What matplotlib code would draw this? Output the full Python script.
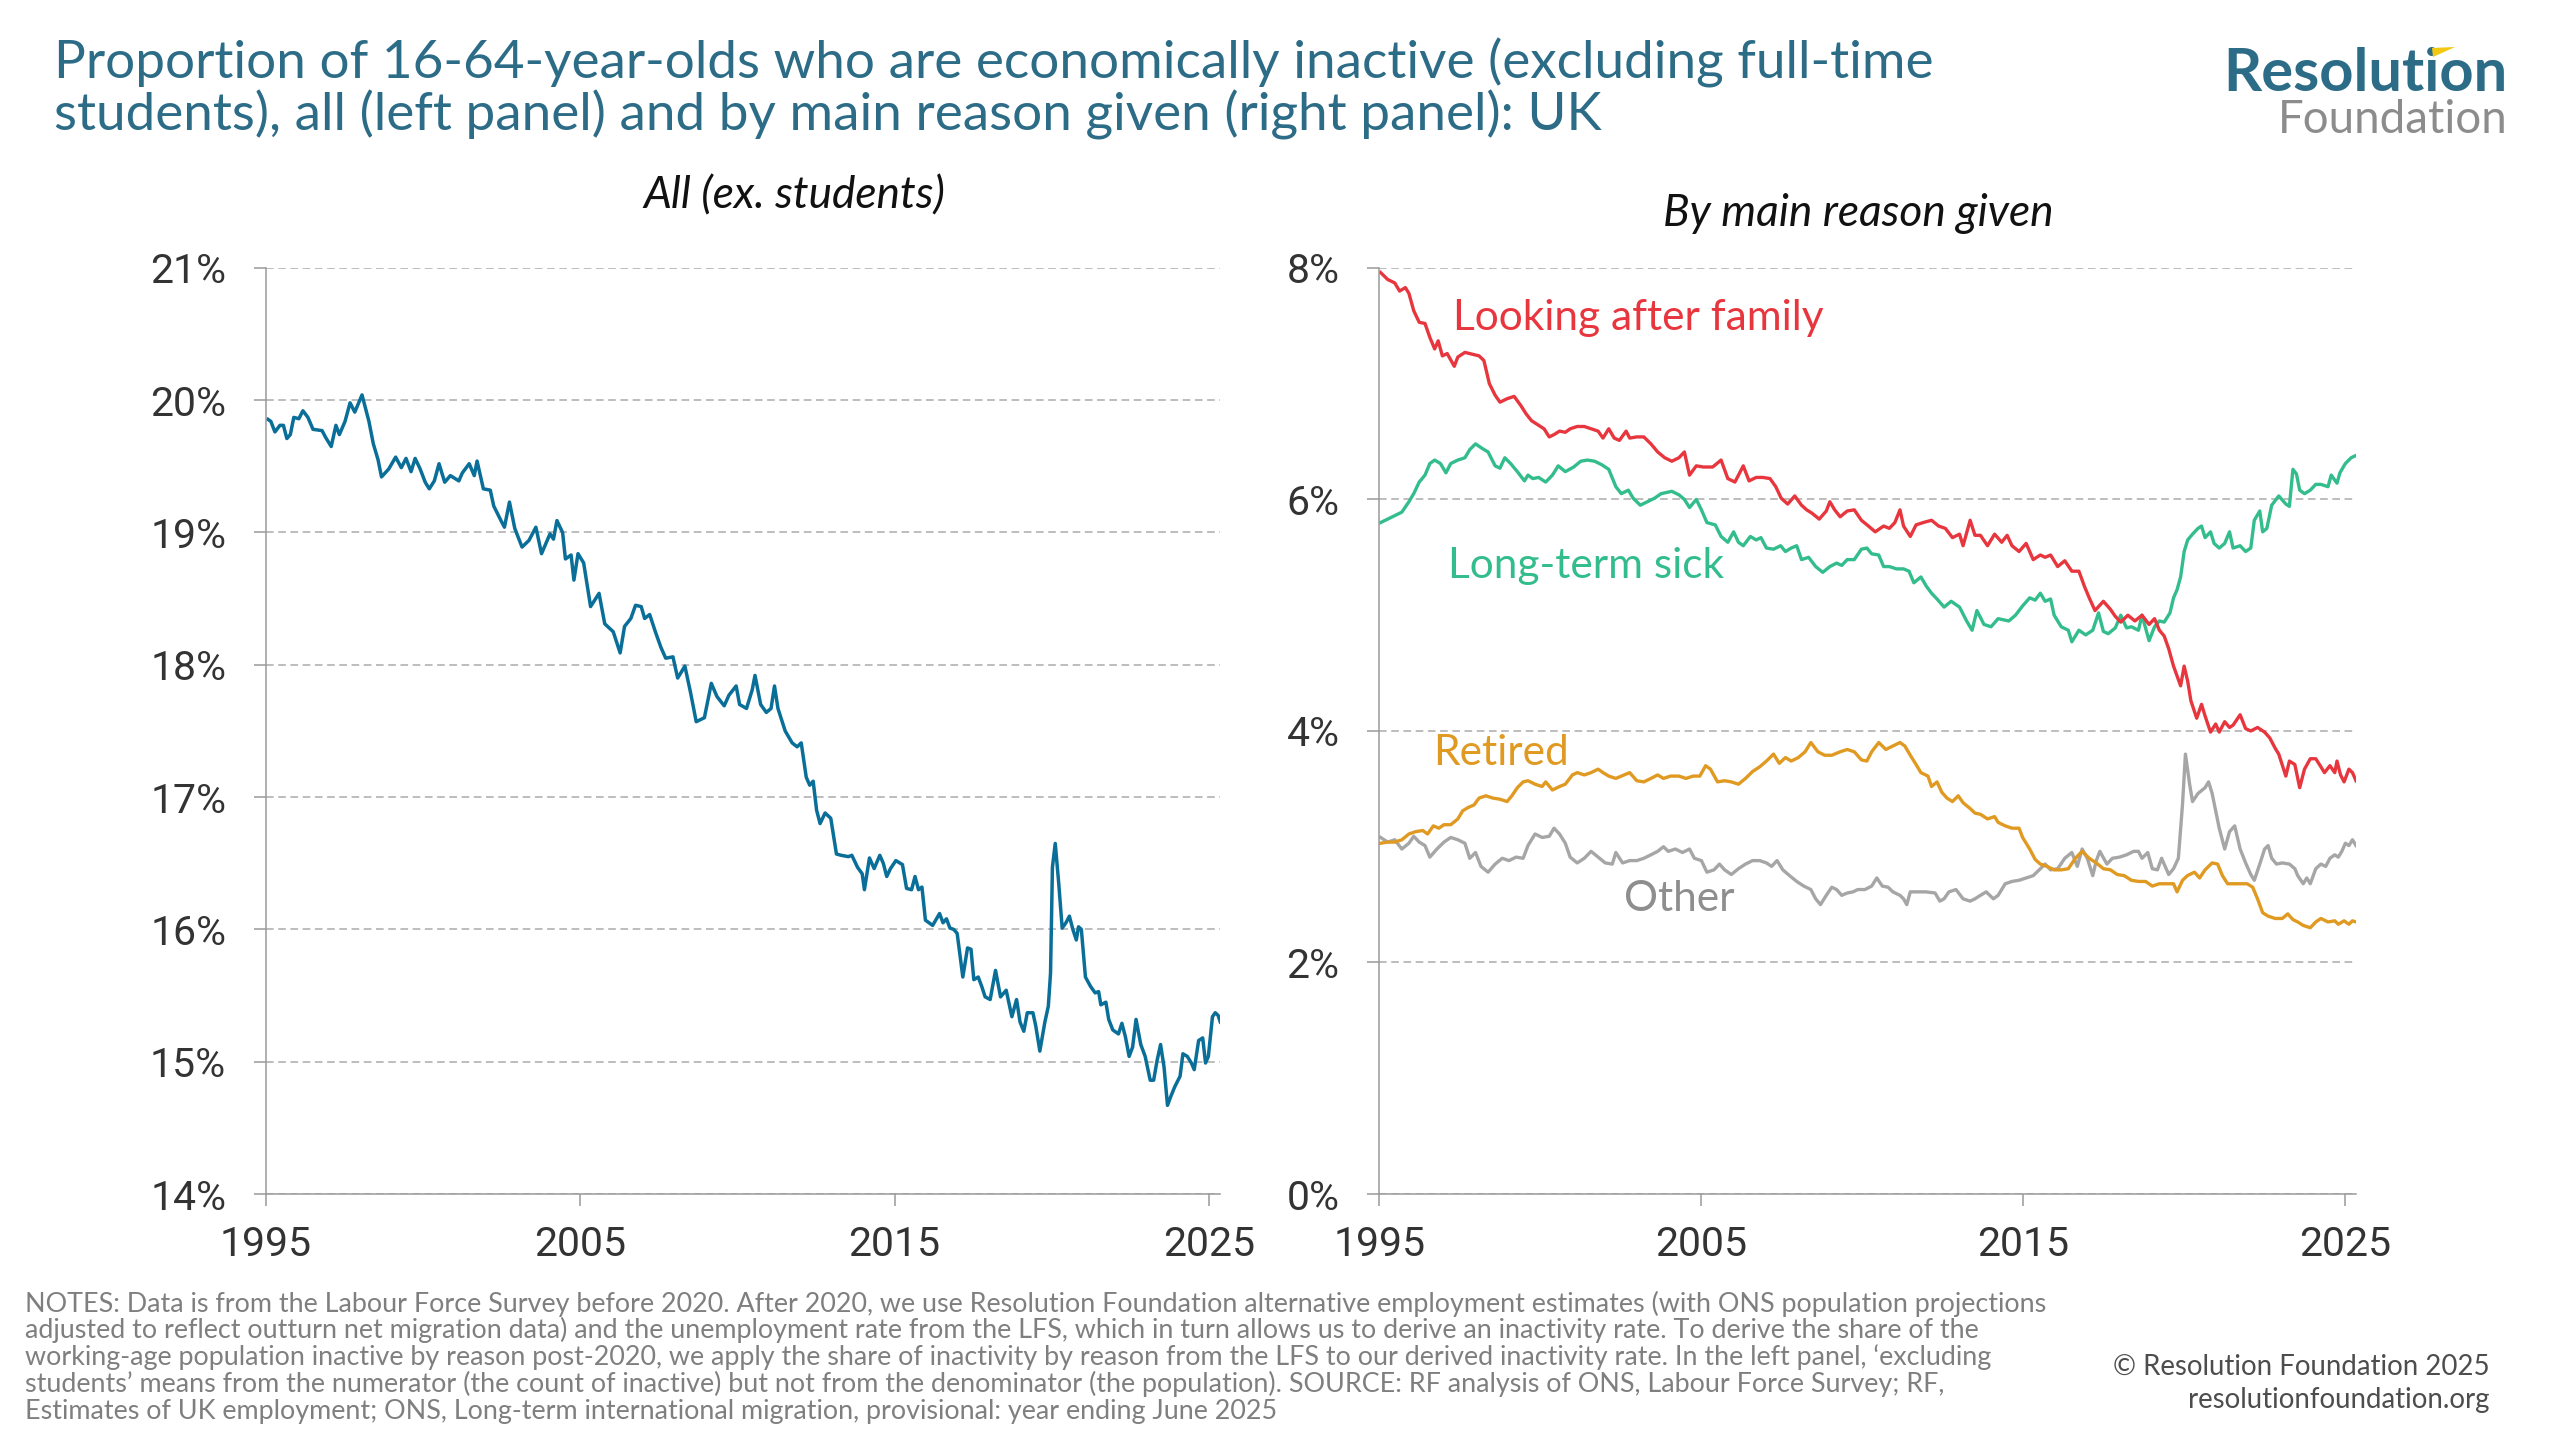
import matplotlib
matplotlib.use("Agg")
import matplotlib.pyplot as plt
from matplotlib.patches import Polygon
from matplotlib.ticker import FixedLocator, FuncFormatter

# ---------------- data ----------------
all_years = [1995.07, 1995.16, 1995.29, 1995.45, 1995.56, 1995.67, 1995.78, 1995.89, 1996.05, 1996.18,
             1996.34, 1996.5, 1996.79, 1996.9, 1997.08, 1997.23, 1997.34, 1997.52, 1997.68, 1997.83,
             1998.06, 1998.28, 1998.42, 1998.57, 1998.68, 1998.91, 1999.13, 1999.31, 1999.46, 1999.62,
             1999.75, 1999.91, 2000.07, 2000.2, 2000.36, 2000.51, 2000.69, 2000.87, 2001.14, 2001.25,
             2001.47, 2001.63, 2001.72, 2001.92, 2002.14, 2002.25, 2002.48, 2002.59, 2002.75, 2002.92,
             2003.15, 2003.37, 2003.59, 2003.77, 2004.04, 2004.15, 2004.26, 2004.44, 2004.53, 2004.71,
             2004.8, 2004.93, 2005.11, 2005.33, 2005.6, 2005.78, 2006.05, 2006.27, 2006.41, 2006.61,
             2006.76, 2006.94, 2007.05, 2007.21, 2007.39, 2007.57, 2007.72, 2007.95, 2008.1, 2008.33,
             2008.51, 2008.69, 2008.95, 2009.17, 2009.35, 2009.58, 2009.73, 2009.96, 2010.07, 2010.29,
             2010.47, 2010.56, 2010.74, 2010.92, 2011.07, 2011.18, 2011.29, 2011.52, 2011.74, 2011.9,
             2012.03, 2012.19, 2012.3, 2012.41, 2012.52, 2012.63, 2012.79, 2012.97, 2013.15, 2013.3,
             2013.53, 2013.64, 2013.82, 2013.97, 2014.04, 2014.2, 2014.35, 2014.53, 2014.64, 2014.75,
             2014.87, 2015.04, 2015.25, 2015.38, 2015.54, 2015.65, 2015.76, 2015.87, 2015.98, 2016.21,
             2016.43, 2016.54, 2016.65, 2016.76, 2016.88, 2016.99, 2017.17, 2017.32, 2017.43, 2017.52,
             2017.66, 2017.77, 2017.88, 2018.04, 2018.21, 2018.37, 2018.55, 2018.73, 2018.88, 2018.99,
             2019.11, 2019.22, 2019.4, 2019.49, 2019.62, 2019.78, 2019.89, 2019.96, 2020.02, 2020.11,
             2020.22, 2020.33, 2020.45, 2020.56, 2020.67, 2020.78, 2020.85, 2020.94, 2021.07, 2021.23,
             2021.38, 2021.49, 2021.56, 2021.72, 2021.81, 2021.94, 2022.12, 2022.23, 2022.34, 2022.46,
             2022.57, 2022.68, 2022.83, 2022.97, 2023.13, 2023.24, 2023.35, 2023.46, 2023.57, 2023.68,
             2023.79, 2023.91, 2024.08, 2024.17, 2024.31, 2024.44, 2024.53, 2024.67, 2024.8, 2024.89,
             2024.98, 2025.11, 2025.2, 2025.29, 2025.36]
all_rate = [19.855, 19.84, 19.76, 19.81, 19.81, 19.71, 19.74, 19.87, 19.86, 19.92,
            19.87, 19.78, 19.77, 19.72, 19.65, 19.81, 19.74, 19.84, 19.98, 19.91,
            20.04, 19.84, 19.67, 19.55, 19.42, 19.48, 19.57, 19.49, 19.56, 19.46,
            19.56, 19.48, 19.38, 19.33, 19.39, 19.52, 19.38, 19.43, 19.39, 19.45,
            19.52, 19.43, 19.54, 19.33, 19.32, 19.20, 19.09, 19.04, 19.23, 19.03,
            18.89, 18.94, 19.04, 18.84, 18.99, 18.95, 19.09, 19.00, 18.80, 18.83,
            18.64, 18.84, 18.77, 18.44, 18.54, 18.31, 18.25, 18.09, 18.29, 18.35,
            18.45, 18.44, 18.35, 18.38, 18.25, 18.13, 18.05, 18.06, 17.90, 17.99,
            17.79, 17.57, 17.60, 17.86, 17.76, 17.69, 17.77, 17.84, 17.70, 17.67,
            17.81, 17.92, 17.70, 17.64, 17.67, 17.84, 17.67, 17.50, 17.41, 17.38,
            17.41, 17.15, 17.09, 17.12, 16.90, 16.80, 16.88, 16.84, 16.57, 16.56,
            16.55, 16.56, 16.47, 16.42, 16.30, 16.54, 16.46, 16.56, 16.50, 16.40,
            16.46, 16.52, 16.49, 16.31, 16.30, 16.40, 16.30, 16.32, 16.07, 16.03,
            16.12, 16.05, 16.08, 16.01, 16.00, 15.97, 15.64, 15.86, 15.85, 15.62,
            15.64, 15.57, 15.49, 15.47, 15.69, 15.49, 15.54, 15.34, 15.47, 15.30,
            15.23, 15.37, 15.37, 15.27, 15.08, 15.30, 15.42, 15.67, 16.47, 16.65,
            16.35, 16.01, 16.05, 16.10, 16.00, 15.92, 16.02, 16.00, 15.64, 15.57,
            15.52, 15.53, 15.43, 15.45, 15.32, 15.24, 15.21, 15.29, 15.19, 15.04,
            15.11, 15.32, 15.13, 15.04, 14.86, 14.86, 15.01, 15.13, 14.96, 14.67,
            14.74, 14.81, 14.89, 15.06, 15.04, 14.99, 14.94, 15.16, 15.18, 14.99,
            15.04, 15.34, 15.37, 15.35, 15.30]

family_years = [1995.04, 1995.26, 1995.48, 1995.63, 1995.81, 1995.92, 1996.07, 1996.24, 1996.42, 1996.57,
                1996.72, 1996.83, 1996.96, 1997.11, 1997.33, 1997.44, 1997.66, 1998.1, 1998.25, 1998.42,
                1998.6, 1998.75, 1998.97, 1999.19, 1999.4, 1999.56, 1999.73, 1999.95, 2000.12, 2000.28,
                2000.43, 2000.6, 2000.78, 2000.93, 2001.15, 2001.37, 2001.58, 2001.8, 2001.95, 2002.13,
                2002.3, 2002.46, 2002.67, 2002.78, 2003.0, 2003.22, 2003.44, 2003.65, 2003.87, 2004.09,
                2004.31, 2004.48, 2004.64, 2004.85, 2005.07, 2005.36, 2005.62, 2005.83, 2006.05, 2006.31,
                2006.49, 2006.71, 2006.92, 2007.14, 2007.32, 2007.49, 2007.69, 2007.91, 2008.12, 2008.28,
                2008.45, 2008.67, 2008.89, 2009.0, 2009.15, 2009.32, 2009.54, 2009.76, 2009.98, 2010.2,
                2010.41, 2010.67, 2010.85, 2011.02, 2011.18, 2011.29, 2011.5, 2011.68, 2011.9, 2012.16,
                2012.38, 2012.59, 2012.81, 2013.03, 2013.14, 2013.36, 2013.51, 2013.68, 2013.9, 2014.12,
                2014.34, 2014.51, 2014.66, 2014.88, 2015.1, 2015.32, 2015.54, 2015.69, 2015.86, 2016.08,
                2016.3, 2016.52, 2016.74, 2016.91, 2017.06, 2017.24, 2017.5, 2017.72, 2017.87, 2018.04,
                2018.26, 2018.48, 2018.7, 2018.92, 2019.09, 2019.24, 2019.39, 2019.53, 2019.68, 2019.9,
                2020.01, 2020.12, 2020.22, 2020.4, 2020.55, 2020.66, 2020.83, 2020.99, 2021.1, 2021.27,
                2021.42, 2021.53, 2021.75, 2021.92, 2022.08, 2022.29, 2022.51, 2022.67, 2022.84, 2022.95,
                2023.17, 2023.28, 2023.45, 2023.6, 2023.75, 2023.93, 2024.1, 2024.26, 2024.37, 2024.54,
                2024.69, 2024.76, 2024.87, 2024.98, 2025.13, 2025.24, 2025.35]
family_rate = [7.96, 7.90, 7.87, 7.80, 7.83, 7.78, 7.63, 7.53, 7.52, 7.40,
               7.30, 7.37, 7.24, 7.26, 7.15, 7.23, 7.27, 7.24, 7.20, 7.00,
               6.90, 6.84, 6.87, 6.89, 6.81, 6.74, 6.68, 6.64, 6.61, 6.54,
               6.56, 6.59, 6.58, 6.61, 6.63, 6.63, 6.61, 6.59, 6.53, 6.61,
               6.53, 6.51, 6.59, 6.53, 6.54, 6.54, 6.48, 6.41, 6.36, 6.33,
               6.36, 6.41, 6.21, 6.29, 6.28, 6.28, 6.34, 6.18, 6.15, 6.29,
               6.16, 6.19, 6.19, 6.18, 6.11, 6.01, 5.96, 6.03, 5.95, 5.91,
               5.88, 5.83, 5.90, 5.98, 5.91, 5.85, 5.90, 5.91, 5.82, 5.77,
               5.72, 5.77, 5.75, 5.80, 5.91, 5.77, 5.68, 5.78, 5.80, 5.82,
               5.77, 5.75, 5.67, 5.70, 5.60, 5.82, 5.69, 5.69, 5.60, 5.70,
               5.63, 5.69, 5.60, 5.55, 5.62, 5.48, 5.52, 5.50, 5.52, 5.42,
               5.47, 5.38, 5.38, 5.25, 5.15, 5.04, 5.12, 5.05, 4.99, 4.94,
               5.00, 4.95, 5.00, 4.92, 4.97, 4.87, 4.82, 4.71, 4.56, 4.39,
               4.56, 4.43, 4.26, 4.11, 4.23, 4.13, 3.99, 4.06, 3.99, 4.08,
               4.03, 4.05, 4.14, 4.02, 4.00, 4.03, 3.99, 3.94, 3.85, 3.80,
               3.61, 3.74, 3.71, 3.51, 3.67, 3.76, 3.76, 3.69, 3.64, 3.70,
               3.64, 3.74, 3.62, 3.56, 3.67, 3.64, 3.57]

sick_years = [1995.04, 1995.26, 1995.48, 1995.7, 1995.92, 1996.07, 1996.24, 1996.42, 1996.57, 1996.72,
              1996.9, 1997.07, 1997.22, 1997.44, 1997.66, 1997.81, 1997.99, 1998.2, 1998.38, 1998.6,
              1998.75, 1998.9, 1999.08, 1999.29, 1999.51, 1999.62, 1999.77, 1999.95, 2000.17, 2000.38,
              2000.56, 2000.78, 2001.04, 2001.26, 2001.47, 2001.69, 2001.91, 2002.13, 2002.35, 2002.52,
              2002.74, 2002.89, 2003.11, 2003.33, 2003.55, 2003.76, 2004.09, 2004.31, 2004.48, 2004.64,
              2004.85, 2005.01, 2005.18, 2005.44, 2005.62, 2005.83, 2006.01, 2006.16, 2006.31, 2006.53,
              2006.71, 2006.86, 2007.03, 2007.25, 2007.47, 2007.62, 2007.8, 2007.97, 2008.12, 2008.34,
              2008.56, 2008.78, 2009.0, 2009.21, 2009.37, 2009.54, 2009.76, 2009.98, 2010.15, 2010.3,
              2010.52, 2010.67, 2010.85, 2011.07, 2011.29, 2011.46, 2011.61, 2011.83, 2012.0, 2012.16,
              2012.33, 2012.55, 2012.77, 2013.03, 2013.25, 2013.42, 2013.57, 2013.79, 2014.01, 2014.23,
              2014.56, 2014.77, 2014.99, 2015.21, 2015.38, 2015.54, 2015.69, 2015.86, 2015.97, 2016.19,
              2016.41, 2016.52, 2016.74, 2016.95, 2017.17, 2017.35, 2017.5, 2017.65, 2017.87, 2018.04,
              2018.22, 2018.37, 2018.59, 2018.7, 2018.92, 2019.09, 2019.24, 2019.39, 2019.57, 2019.68,
              2019.79, 2019.9, 2020.01, 2020.12, 2020.27, 2020.44, 2020.55, 2020.66, 2020.83, 2020.94,
              2021.1, 2021.27, 2021.42, 2021.53, 2021.75, 2021.92, 2022.08, 2022.19, 2022.36, 2022.45,
              2022.58, 2022.73, 2022.95, 2023.17, 2023.28, 2023.39, 2023.5, 2023.6, 2023.75, 2023.93,
              2024.1, 2024.26, 2024.48, 2024.58, 2024.76, 2024.85, 2025.02, 2025.2, 2025.35]
sick_rate = [5.80, 5.83, 5.86, 5.89, 5.98, 6.05, 6.15, 6.21, 6.31, 6.34,
             6.31, 6.23, 6.31, 6.34, 6.36, 6.43, 6.48, 6.44, 6.41, 6.29,
             6.27, 6.36, 6.31, 6.24, 6.16, 6.21, 6.18, 6.19, 6.15, 6.21,
             6.29, 6.24, 6.28, 6.33, 6.34, 6.33, 6.30, 6.26, 6.11, 6.05,
             6.08, 6.01, 5.95, 5.98, 6.01, 6.05, 6.07, 6.04, 6.00, 5.93,
             6.00, 5.91, 5.80, 5.78, 5.68, 5.63, 5.72, 5.63, 5.60, 5.68,
             5.65, 5.67, 5.58, 5.57, 5.60, 5.55, 5.58, 5.60, 5.48, 5.50,
             5.42, 5.37, 5.42, 5.45, 5.43, 5.48, 5.48, 5.57, 5.58, 5.53,
             5.52, 5.42, 5.42, 5.40, 5.40, 5.38, 5.28, 5.33, 5.25, 5.19,
             5.14, 5.07, 5.12, 5.07, 4.95, 4.87, 5.04, 4.92, 4.90, 4.97,
             4.95, 5.00, 5.08, 5.15, 5.13, 5.19, 5.12, 5.14, 5.00, 4.90,
             4.87, 4.77, 4.87, 4.83, 4.87, 5.02, 4.86, 4.84, 4.89, 5.00,
             4.89, 4.90, 4.87, 5.00, 4.78, 4.90, 4.95, 4.94, 5.02, 5.15,
             5.22, 5.33, 5.55, 5.65, 5.70, 5.75, 5.77, 5.67, 5.72, 5.62,
             5.58, 5.62, 5.72, 5.58, 5.60, 5.55, 5.58, 5.82, 5.90, 5.72,
             5.75, 5.95, 6.03, 5.96, 5.94, 6.26, 6.22, 6.08, 6.05, 6.08,
             6.13, 6.13, 6.11, 6.21, 6.14, 6.23, 6.31, 6.36, 6.38]

retired_years = [1995.04, 1995.26, 1995.48, 1995.7, 1995.92, 1996.13, 1996.35, 1996.5, 1996.68, 1996.85,
                 1997.01, 1997.22, 1997.44, 1997.59, 1997.77, 1997.94, 1998.1, 1998.31, 1998.53, 1998.75,
                 1998.97, 1999.12, 1999.29, 1999.47, 1999.62, 1999.84, 2000.06, 2000.17, 2000.38, 2000.6,
                 2000.78, 2001.0, 2001.15, 2001.37, 2001.58, 2001.8, 2001.95, 2002.13, 2002.35, 2002.61,
                 2002.78, 2003.0, 2003.22, 2003.44, 2003.65, 2003.83, 2004.05, 2004.31, 2004.53, 2004.75,
                 2004.96, 2005.14, 2005.29, 2005.51, 2005.73, 2005.94, 2006.16, 2006.38, 2006.6, 2006.82,
                 2007.03, 2007.25, 2007.43, 2007.62, 2007.8, 2008.02, 2008.23, 2008.41, 2008.63, 2008.84,
                 2009.06, 2009.32, 2009.54, 2009.76, 2009.98, 2010.15, 2010.3, 2010.52, 2010.74, 2010.96,
                 2011.18, 2011.33, 2011.5, 2011.68, 2011.83, 2012.05, 2012.16, 2012.33, 2012.48, 2012.64,
                 2012.81, 2012.99, 2013.14, 2013.36, 2013.51, 2013.68, 2013.9, 2014.12, 2014.23, 2014.45,
                 2014.66, 2014.88, 2014.99, 2015.21, 2015.38, 2015.54, 2015.75, 2015.97, 2016.19, 2016.41,
                 2016.63, 2016.84, 2017.06, 2017.28, 2017.5, 2017.72, 2017.93, 2018.15, 2018.37, 2018.59,
                 2018.81, 2019.02, 2019.24, 2019.46, 2019.68, 2019.79, 2019.96, 2020.11, 2020.33, 2020.49,
                 2020.66, 2020.88, 2021.05, 2021.2, 2021.36, 2021.53, 2021.75, 2021.97, 2022.14, 2022.29,
                 2022.45, 2022.62, 2022.84, 2023.06, 2023.23, 2023.39, 2023.54, 2023.71, 2023.93, 2024.1,
                 2024.26, 2024.48, 2024.69, 2024.8, 2024.98, 2025.13, 2025.24, 2025.35]
retired_rate = [3.03, 3.04, 3.04, 3.06, 3.11, 3.13, 3.14, 3.11, 3.18, 3.16,
                3.19, 3.19, 3.24, 3.31, 3.34, 3.36, 3.42, 3.44, 3.42, 3.41,
                3.39, 3.44, 3.51, 3.56, 3.57, 3.54, 3.52, 3.56, 3.49, 3.52,
                3.54, 3.62, 3.64, 3.62, 3.64, 3.67, 3.64, 3.61, 3.59, 3.62,
                3.64, 3.57, 3.56, 3.59, 3.62, 3.59, 3.61, 3.61, 3.59, 3.61,
                3.61, 3.70, 3.67, 3.56, 3.57, 3.56, 3.54, 3.59, 3.65, 3.69,
                3.74, 3.80, 3.72, 3.77, 3.74, 3.77, 3.82, 3.90, 3.82, 3.79,
                3.79, 3.82, 3.84, 3.82, 3.75, 3.74, 3.82, 3.90, 3.84, 3.87,
                3.90, 3.87, 3.79, 3.71, 3.64, 3.61, 3.52, 3.56, 3.47, 3.42,
                3.39, 3.44, 3.38, 3.33, 3.29, 3.28, 3.24, 3.26, 3.21, 3.18,
                3.16, 3.16, 3.08, 2.98, 2.89, 2.85, 2.83, 2.80, 2.80, 2.81,
                2.90, 2.96, 2.90, 2.86, 2.81, 2.80, 2.76, 2.75, 2.71, 2.70,
                2.70, 2.66, 2.68, 2.68, 2.68, 2.61, 2.71, 2.75, 2.78, 2.73,
                2.80, 2.86, 2.85, 2.75, 2.68, 2.68, 2.68, 2.68, 2.65, 2.55,
                2.43, 2.40, 2.38, 2.38, 2.42, 2.37, 2.35, 2.32, 2.30, 2.35,
                2.38, 2.35, 2.36, 2.33, 2.36, 2.33, 2.36, 2.35]

other_years = [1995.04, 1995.26, 1995.48, 1995.7, 1995.92, 1996.07, 1996.24, 1996.42, 1996.57, 1996.79,
               1997.01, 1997.22, 1997.44, 1997.66, 1997.81, 1997.99, 1998.16, 1998.38, 1998.6, 1998.82,
               1999.03, 1999.25, 1999.47, 1999.62, 1999.84, 2000.06, 2000.28, 2000.43, 2000.6, 2000.78,
               2000.93, 2001.15, 2001.37, 2001.58, 2001.8, 2002.02, 2002.24, 2002.35, 2002.56, 2002.78,
               2003.0, 2003.22, 2003.44, 2003.65, 2003.83, 2003.98, 2004.2, 2004.42, 2004.64, 2004.79,
               2005.01, 2005.18, 2005.4, 2005.57, 2005.73, 2005.94, 2006.16, 2006.38, 2006.6, 2006.82,
               2007.03, 2007.19, 2007.36, 2007.54, 2007.75, 2007.97, 2008.19, 2008.41, 2008.56, 2008.71,
               2008.89, 2009.06, 2009.21, 2009.37, 2009.54, 2009.72, 2009.87, 2010.09, 2010.3, 2010.46,
               2010.63, 2010.81, 2010.96, 2011.18, 2011.29, 2011.39, 2011.5, 2011.72, 2011.98, 2012.27,
               2012.42, 2012.55, 2012.7, 2012.92, 2013.14, 2013.36, 2013.51, 2013.68, 2013.86, 2014.08,
               2014.23, 2014.45, 2014.66, 2014.88, 2015.1, 2015.32, 2015.54, 2015.69, 2015.86, 2016.08,
               2016.3, 2016.52, 2016.69, 2016.84, 2017.0, 2017.17, 2017.28, 2017.39, 2017.61, 2017.78,
               2018.0, 2018.22, 2018.44, 2018.59, 2018.7, 2018.88, 2019.02, 2019.18, 2019.31, 2019.53,
               2019.68, 2019.83, 2019.96, 2020.05, 2020.18, 2020.27, 2020.44, 2020.66, 2020.77, 2020.88,
               2020.99, 2021.1, 2021.27, 2021.42, 2021.58, 2021.75, 2021.92, 2022.08, 2022.19, 2022.36,
               2022.51, 2022.62, 2022.73, 2022.88, 2023.06, 2023.28, 2023.45, 2023.54, 2023.71, 2023.82,
               2023.93, 2024.1, 2024.26, 2024.41, 2024.54, 2024.69, 2024.8, 2024.91, 2025.02, 2025.13,
               2025.24, 2025.35]
other_rate = [3.08, 3.04, 3.06, 2.98, 3.03, 3.09, 3.04, 3.01, 2.91, 2.98,
              3.04, 3.08, 3.06, 3.03, 2.90, 2.95, 2.83, 2.78, 2.85, 2.90,
              2.88, 2.91, 2.90, 3.01, 3.11, 3.08, 3.09, 3.16, 3.11, 3.03,
              2.91, 2.86, 2.90, 2.96, 2.91, 2.86, 2.85, 2.95, 2.86, 2.88,
              2.88, 2.90, 2.93, 2.96, 3.00, 2.96, 2.98, 2.95, 2.98, 2.90,
              2.88, 2.78, 2.80, 2.85, 2.80, 2.76, 2.81, 2.85, 2.88, 2.88,
              2.86, 2.83, 2.88, 2.80, 2.75, 2.70, 2.66, 2.63, 2.55, 2.50,
              2.58, 2.65, 2.63, 2.58, 2.60, 2.61, 2.63, 2.63, 2.66, 2.73,
              2.66, 2.65, 2.61, 2.58, 2.55, 2.50, 2.61, 2.61, 2.61, 2.60,
              2.53, 2.55, 2.61, 2.63, 2.55, 2.53, 2.55, 2.58, 2.61, 2.55,
              2.58, 2.68, 2.70, 2.71, 2.73, 2.75, 2.81, 2.85, 2.80, 2.81,
              2.90, 2.95, 2.83, 2.98, 2.90, 2.75, 2.88, 2.96, 2.85, 2.90,
              2.91, 2.93, 2.96, 2.96, 2.90, 2.95, 2.81, 2.80, 2.90, 2.76,
              2.81, 2.90, 3.37, 3.80, 3.54, 3.39, 3.46, 3.51, 3.56, 3.46,
              3.31, 3.16, 2.98, 3.13, 3.18, 2.98, 2.86, 2.76, 2.71, 2.85,
              2.98, 3.01, 2.90, 2.85, 2.86, 2.85, 2.81, 2.75, 2.68, 2.73,
              2.68, 2.81, 2.85, 2.83, 2.90, 2.93, 2.91, 2.96, 3.03, 3.01,
              3.06, 3.01]

x_ticks = [1995, 2005, 2015, 2025]
left_y_ticks = [14, 15, 16, 17, 18, 19, 20, 21]
right_y_ticks = [0, 2, 4, 6, 8]

title_lines = ["Proportion of 16-64-year-olds who are economically inactive (excluding full-time",
               "students), all (left panel) and by main reason given (right panel): UK"]
left_subtitle = "All (ex. students)"
right_subtitle = "By main reason given"
series_labels = ["Looking after family", "Long-term sick", "Retired", "Other"]
notes_lines = [
    "NOTES: Data is from the Labour Force Survey before 2020. After 2020, we use Resolution Foundation alternative employment estimates (with ONS population projections",
    "adjusted to reflect outturn net migration data) and the unemployment rate from the LFS, which in turn allows us to derive an inactivity rate. To derive the share of the",
    "working-age population inactive by reason post-2020, we apply the share of inactivity by reason from the LFS to our derived inactivity rate. In the left panel, \u2018excluding",
    "students\u2019 means from the numerator (the count of inactive) but not from the denominator (the population). SOURCE: RF analysis of ONS, Labour Force Survey; RF,",
    "Estimates of UK employment; ONS, Long-term international migration, provisional: year ending June 2025",
]
credit_lines = ["\u00a9 Resolution Foundation 2025", "resolutionfoundation.org"]

# ---------------- styling ----------------
W, H = 2560, 1440
TEAL = "#2C6C87"
C_ALL = "#0A6F98"
C_FAM = "#E8363E"
C_SICK = "#33BD8C"
C_RET = "#E09A22"
C_OTH = "#A6A6A6"
GRID = "#ABABAB"
SPINE = "#9A9A9A"
TXT = "Lato"
TICKF = "Roboto"

fig = plt.figure(figsize=(W / 100, H / 100), dpi=100)
fig.patch.set_facecolor("white")
renderer = fig.canvas.get_renderer()


def fx(px):
    return px / W


def fy(py):
    return 1 - py / H


def fit(t, target_px):
    bb = t.get_window_extent(renderer=renderer)
    t.set_fontsize(t.get_fontsize() * target_px / bb.width)
    return t.get_fontsize()


def style_axes(ax, yticks, ylim, fmt):
    ax.set_xlim(1995, 2025.35)
    ax.set_ylim(*ylim)
    ax.xaxis.set_major_locator(FixedLocator(x_ticks))
    ax.yaxis.set_major_locator(FixedLocator(yticks))
    ax.yaxis.set_major_formatter(FuncFormatter(fmt))
    ax.grid(axis="y", color=GRID, linestyle=(0, (5, 3)), linewidth=1.1)
    ax.set_axisbelow(True)
    for s in ["top", "right"]:
        ax.spines[s].set_visible(False)
    for s in ["left", "bottom"]:
        ax.spines[s].set_color(SPINE)
        ax.spines[s].set_linewidth(1.1)
    ax.tick_params(axis="both", which="major", direction="out", length=8.6, width=1.1,
                   color=SPINE, labelcolor="#333333", labelsize=29.5)
    ax.tick_params(axis="y", pad=20)
    ax.tick_params(axis="x", pad=14)
    for lab in ax.get_xticklabels() + ax.get_yticklabels():
        lab.set_fontfamily(TICKF)


# ---------------- left panel ----------------
axL = fig.add_axes([0.10383, 0.17083, 0.37273, 0.64313])
style_axes(axL, left_y_ticks, (14, 21), lambda v, p: f"{v:.0f}%")
axL.plot(all_years, all_rate, color=C_ALL, linewidth=2.5, solid_joinstyle="round")

# ---------------- right panel ----------------
axR = fig.add_axes([0.53879, 0.17083, 0.38152, 0.64313])
style_axes(axR, right_y_ticks, (0, 8), lambda v, p: f"{v:.0f}%")
axR.plot(other_years, other_rate, color=C_OTH, linewidth=2.4)
axR.plot(retired_years, retired_rate, color=C_RET, linewidth=2.4)
axR.plot(sick_years, sick_rate, color=C_SICK, linewidth=2.4)
axR.plot(family_years, family_rate, color=C_FAM, linewidth=2.4)

label_specs = [
    (series_labels[0], 1997.29, 7.46, C_FAM),
    (series_labels[1], 1997.12, 5.325, C_SICK),
    (series_labels[2], 1996.68, 3.706, C_RET),
    (series_labels[3], 2002.61, 2.449, "#8E8E8E"),
]
lab_texts = []
for txt, xv, yv, col in label_specs:
    lab_texts.append(axR.text(xv, yv, txt, color=col, fontsize=30, family=TXT,
                              ha="left", va="baseline"))
fs_lab = fit(lab_texts[0], 370)
for t in lab_texts[1:]:
    t.set_fontsize(fs_lab)

# ---------------- subtitles ----------------
subL = fig.text(fx(794), fy(208), left_subtitle, ha="center", va="baseline",
                fontsize=27, family=TXT, style="italic", color="#111111")
fs_sub = fit(subL, 302)
fig.text(fx(1858), fy(226), right_subtitle, ha="center", va="baseline",
         fontsize=fs_sub, family=TXT, style="italic", color="#111111")

# ---------------- title ----------------
t1 = fig.text(fx(54), fy(78), title_lines[0], ha="left", va="baseline",
              fontsize=36, family=TXT, color=TEAL)
fs_title = fit(t1, 1881)
fig.text(fx(54), fy(131), title_lines[1], ha="left", va="baseline",
         fontsize=fs_title, family=TXT, color=TEAL)

# ---------------- logo ----------------
lg1 = fig.text(fx(2508), fy(91), "Resolution", ha="right", va="baseline",
               fontsize=40, family=TXT, weight="bold", color=TEAL)
fit(lg1, 284)
lg2 = fig.text(fx(2508), fy(133), "Foundation", ha="right", va="baseline",
               fontsize=34, family=TXT, color="#8C8C8C")
fit(lg2, 230)
fig.patches.append(Polygon([(fx(2432), fy(48)), (fx(2455), fy(47)), (fx(2433), fy(57))],
                           closed=True, transform=fig.transFigure, facecolor="#F2C811",
                           edgecolor="none", zorder=5))

# ---------------- notes ----------------
note_objs = []
for i, line in enumerate(notes_lines):
    note_objs.append(fig.text(fx(25), fy(1311.7 + 26.7 * i), line, ha="left", va="baseline",
                              fontsize=18, family=TXT, color="#7F7F7F"))
fs_note = fit(note_objs[0], 2016)
for t in note_objs[1:]:
    t.set_fontsize(fs_note)

c1 = fig.text(fx(2490), fy(1375), credit_lines[0], ha="right", va="baseline",
              fontsize=20, family=TXT, color="#4D4D4D")
fs_c = fit(c1, 376)
fig.text(fx(2490), fy(1408), credit_lines[1], ha="right", va="baseline",
         fontsize=fs_c, family=TXT, color="#4D4D4D")

fig.savefig("out.png", dpi=100, facecolor="white")
